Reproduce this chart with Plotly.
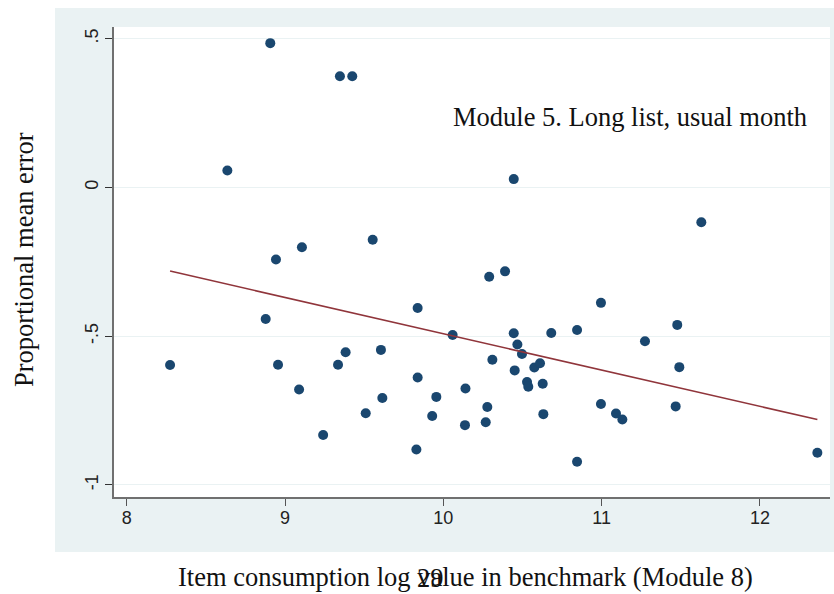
import numpy as np
import plotly.graph_objects as go

# Item log consumption value in the benchmark module (Module 8)
log_value = [
    8.274, 8.636, 8.907, 9.347, 9.425, 10.445, 11.630, 9.554, 9.107, 8.943,
    8.878, 8.956, 9.089, 9.335, 9.383, 9.606, 9.615, 9.510, 9.241, 9.838,
    9.838, 9.830, 9.956, 9.930, 10.059, 10.140, 10.137, 10.290, 10.390, 10.310,
    10.278, 10.268, 10.445, 10.468, 10.497, 10.451, 10.529, 10.537, 10.575, 10.611,
    10.628, 10.632, 10.682, 10.845, 10.845, 10.996, 10.996, 11.091, 11.131, 11.274,
    11.478, 11.491, 11.468, 12.363,
]

# Proportional mean error of Module 5 (long list, usual month)
prop_error = [
    -0.597, 0.057, 0.485, 0.374, 0.374, 0.028, -0.117, -0.176, -0.201, -0.242,
    -0.442, -0.596, -0.679, -0.596, -0.554, -0.546, -0.708, -0.759, -0.832, -0.405,
    -0.639, -0.881, -0.704, -0.768, -0.496, -0.676, -0.799, -0.300, -0.282, -0.579,
    -0.738, -0.789, -0.490, -0.528, -0.560, -0.615, -0.654, -0.670, -0.605, -0.591,
    -0.660, -0.762, -0.489, -0.479, -0.922, -0.388, -0.728, -0.760, -0.780, -0.517,
    -0.462, -0.604, -0.736, -0.892,
]

x_ticks = [8, 9, 10, 11, 12]
y_ticks = [-1, -0.5, 0, 0.5]
y_tick_text = ["-1", "-.5", "0", ".5"]

panel_title = "Module 5. Long list, usual month"
x_title = "Item consumption log value in benchmark (Module 8)"
y_title = "Proportional mean error"
page_number = "29"

NAVY = "#1A476F"
MAROON = "#90353B"
BLUISH_GRAY = "rgb(234,242,243)"
SERIF = "Liberation Serif, Times New Roman, serif"
SANS = "Liberation Sans, Arial, sans-serif"

# Linear fit drawn across the observed range
xs = np.array(log_value)
ys = np.array(prop_error)
slope, intercept = np.polyfit(xs, ys, 1)
fit_x = np.array([xs.min(), xs.max()])
fit_y = intercept + slope * fit_x

W, H = 834, 594
L, R, T, B = 114, 4, 27, 97
pw, ph = W - L - R, H - T - B


def px_x(p):
    return (p - L) / pw


def px_y(p):
    return (H - B - p) / ph


fig = go.Figure()
fig.add_trace(go.Scatter(
    x=log_value, y=prop_error, mode="markers",
    marker=dict(color=NAVY, size=10, line=dict(width=0)),
    showlegend=False, hoverinfo="x+y",
))
fig.add_trace(go.Scatter(
    x=fit_x, y=fit_y, mode="lines",
    line=dict(color=MAROON, width=1.6),
    showlegend=False, hoverinfo="skip",
))

fig.update_layout(
    width=W, height=H,
    margin=dict(l=L, r=R, t=T, b=B, pad=0),
    paper_bgcolor="white",
    plot_bgcolor="rgba(0,0,0,0)",
    shapes=[
        # graph region background
        dict(type="rect", xref="paper", yref="paper", layer="below",
             x0=px_x(55), x1=px_x(834), y0=px_y(552), y1=px_y(8),
             fillcolor=BLUISH_GRAY, line=dict(width=0)),
        # plot region
        dict(type="rect", xref="paper", yref="paper", layer="below",
             x0=0, x1=1, y0=0, y1=1,
             fillcolor="white", line=dict(width=0)),
    ],
    xaxis=dict(
        range=[7.9198, 7.9198 + pw / 158.3],
        tickvals=x_ticks, ticks="outside", ticklen=7, tickwidth=1.2,
        tickcolor="#555", showline=True, linecolor="#707070", linewidth=1.6,
        showgrid=False, zeroline=False, ticklabelstandoff=-3,
        tickfont=dict(family=SANS, size=18, color="#222"),
    ),
    yaxis=dict(
        range=[0.5393 - ph / 297.5, 0.5393],
        tickvals=y_ticks, ticktext=y_tick_text, tickangle=-90,
        ticks="outside", ticklen=7, tickwidth=1.2, tickcolor="#333",
        showline=True, linecolor="#707070", linewidth=1.6,
        showgrid=True, gridcolor=BLUISH_GRAY, gridwidth=1.2, zeroline=False,
        tickfont=dict(family=SANS, size=18, color="#222"),
    ),
    annotations=[
        dict(text=panel_title, xref="paper", yref="paper",
             x=px_x(451), y=px_y(117), xanchor="left", yanchor="middle",
             showarrow=False, font=dict(family=SERIF, size=26.5, color="#111")),
        dict(text=x_title, xref="paper", yref="paper",
             x=px_x(465.5), y=px_y(577), xanchor="center", yanchor="middle",
             showarrow=False, font=dict(family=SERIF, size=26.5, color="#111")),
        dict(text=page_number, xref="paper", yref="paper",
             x=px_x(430), y=px_y(578), xanchor="center", yanchor="middle",
             showarrow=False, font=dict(family=SERIF, size=26.5, color="#111")),
        dict(text=y_title, xref="paper", yref="paper", textangle=-90,
             x=px_x(24), y=px_y(260), xanchor="center", yanchor="middle",
             showarrow=False, font=dict(family=SERIF, size=26.5, color="#111")),
    ],
)

fig.write_html("out.html")
